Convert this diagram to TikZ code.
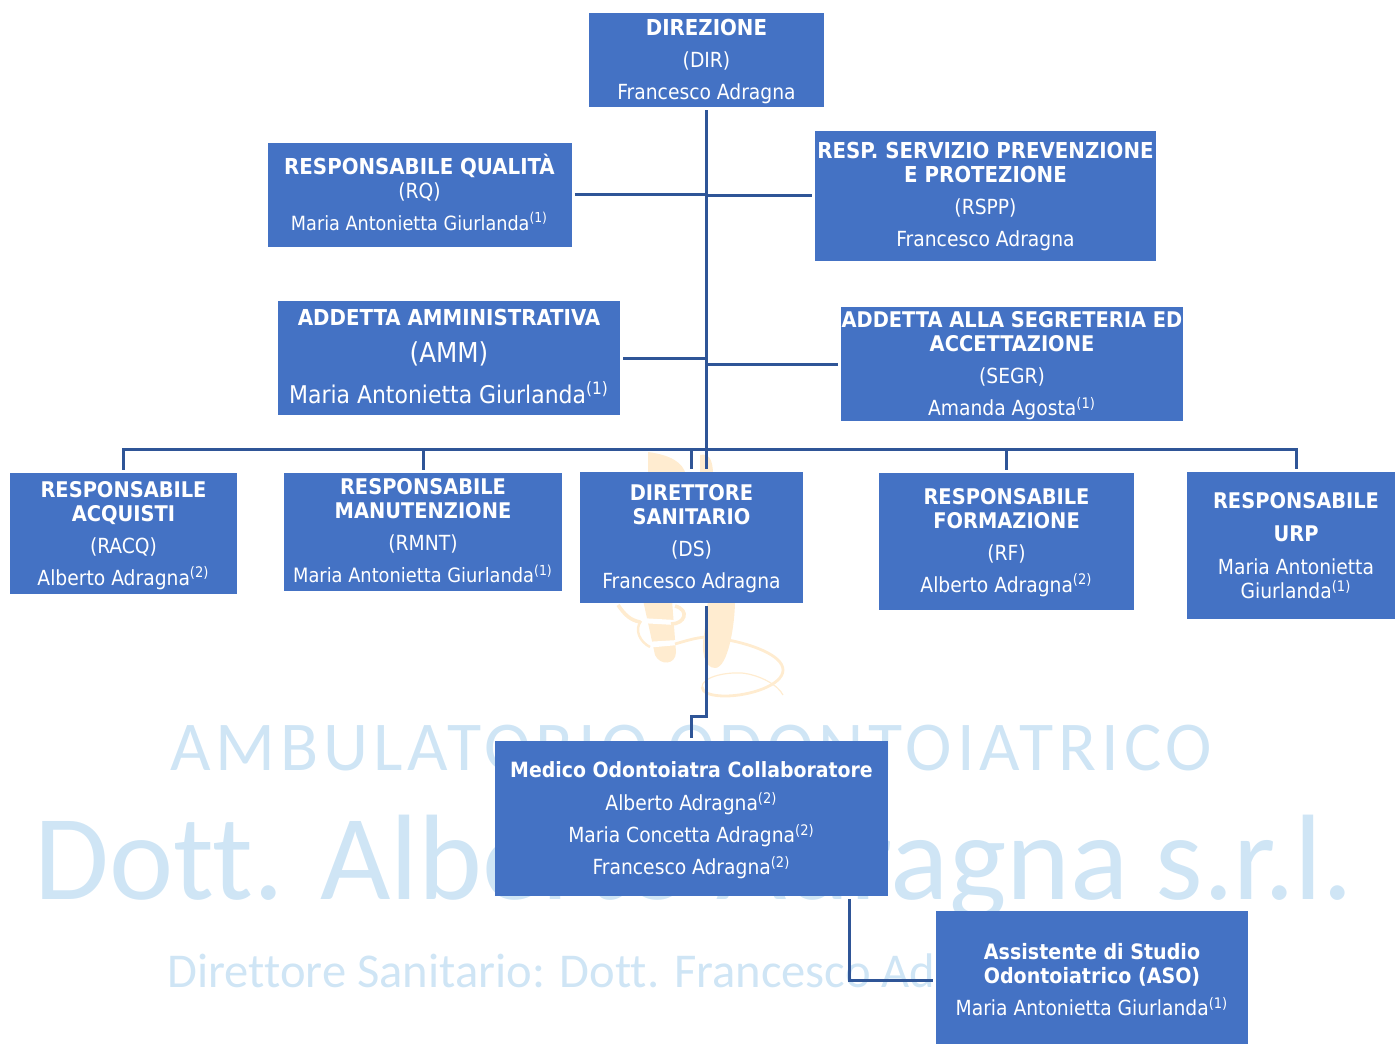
\documentclass[tikz,border=0pt]{standalone}
\usepackage{fontspec}
\setmainfont{DejaVu Sans Condensed}
\newfontfamily\markfont[Ligatures=NoCommon]{Carlito}
\newfontfamily\markspaced[LetterSpace=7,Ligatures=NoCommon]{Carlito}
\usepackage{xcolor}
\usetikzlibrary{positioning}
\definecolor{boxblue}{RGB}{68,114,196}
\definecolor{linkblue}{RGB}{47,85,151}
\definecolor{markblue}{RGB}{207,229,245}
\definecolor{logoyellow}{RGB}{255,236,208}
\newcommand{\nota}[1]{\textsuperscript{(#1)}}
\newcommand{\ttl}[2][11]{{\fontsize{#1}{12}\selectfont\bfseries #2}}
\newcommand{\namesize}[2]{{\fontsize{#1}{12}\selectfont #2}}
\newcommand{\topfill}[1]{\rule{0pt}{#1}}
\newcommand{\botfill}[1]{\rule[-#1]{0pt}{#1}}
\tikzstyle{box} = [rectangle,fill=boxblue,text=white,align=center,inner sep=0pt,font=\fontsize{10.4}{12}\selectfont]
\tikzstyle{link} = [draw=linkblue,line width=1.5pt,shorten <=1.5pt,shorten >=1.5pt]
\tikzstyle{branch} = [link,shorten >=0pt]
\tikzstyle{wmark} = [text=markblue,anchor=base west,inner sep=0pt]

\begin{document}
\setlength{\lineskiplimit}{-20pt}
\begin{tikzpicture}[x=0.5pt,y=-0.5pt]
\useasboundingbox (0,0) rectangle (1395,1043);
% Watermark text
\node[wmark,font=\markspaced\fontsize{35}{35}\selectfont] (wmone) at (170,770) {AMBULATORIO ODONTOIATRICO};
\node[wmark,font=\markfont\fontsize{60.8}{60}\selectfont] (wmtwo) at (34,899) {Dott. Alberto Adragna s.r.l.};
\node[wmark,font=\markfont\fontsize{24.3}{24}\selectfont] (wmthree) at (167,987) {Direttore Sanitario: Dott. Francesco Adragna};

% Logo behind the boxes
\fill[logoyellow] (648,452) .. controls (670,455) and (683,462) .. (686,475) -- (648,475) -- cycle;
\fill[logoyellow] (700,455) .. controls (708,453) and (713,458) .. (713,475) -- (700,475) -- cycle;
\fill[logoyellow] (643,600) -- (672,600) -- (676,652) .. controls (676,665) and (660,666) .. (655,655) -- cycle;
\fill[logoyellow] (708,600) -- (735,600) .. controls (735,625) and (728,668) .. (715,668) .. controls (704,668) and (701,650) .. (704,635) -- cycle;
\fill[white] (640,618) -- (675,620) -- (675,625) -- (640,623) -- cycle;
\fill[white] (645,642) -- (678,640) -- (678,645) -- (645,648) -- cycle;
\draw[logoyellow,line width=1.8pt] (618,605) .. controls (625,615) and (630,620) .. (640,622);
\draw[logoyellow,line width=1.8pt] (671,624) .. controls (685,624) and (690,610) .. (675,606);
\draw[logoyellow,line width=1.2pt] (641,621) .. controls (634,630) and (640,642) .. (650,647);
\draw[logoyellow,line width=1.4pt] (675,644) .. controls (685,641) and (695,638) .. (705,637);
\draw[logoyellow,line width=1.4pt] (728,640) .. controls (750,644) and (783,655) .. (783,670) .. controls (783,685) and (750,696) .. (725,696) .. controls (712,696) and (702,693) .. (702,687);
\draw[logoyellow,line width=0.6pt] (702,687) .. controls (702,678) and (722,672) .. (742,673) .. controls (760,675) and (778,685) .. (783,695);

% Boxes
\node[box,minimum width=117.5pt,minimum height=47pt] (dir) at (706.5,60) {\topfill{10pt}\ttl{DIREZIONE}\\[4pt](DIR)\\[4pt]Francesco Adragna};
\node[box,minimum width=152pt,minimum height=52pt] (rq) at (419.5,195) {\ttl{RESPONSABILE QUALITÀ}\\(RQ)\\[4pt]\namesize{9.8}{Maria Antonietta Giurlanda\nota{1}}\botfill{3pt}};
\node[box,minimum width=170.5pt,minimum height=65pt] (rspp) at (985.5,196) {\topfill{9pt}\ttl{RESP. SERVIZIO PREVENZIONE}\\\ttl{E PROTEZIONE}\\[4pt](RSPP)\\[4pt]Francesco Adragna};
\node[box,minimum width=171pt,minimum height=57pt] (amm) at (449,358) {\ttl{ADDETTA AMMINISTRATIVA}\\[6.5pt]\namesize{13.7}{(AMM)}\\[8.5pt]\namesize{12.2}{Maria Antonietta Giurlanda\nota{1}}\botfill{1.5pt}};
\node[box,minimum width=171pt,minimum height=57pt] (segr) at (1012,364) {\topfill{9.9pt}\ttl[10.8]{ADDETTA ALLA SEGRETERIA ED}\\\ttl[10.8]{ACCETTAZIONE}\\[4pt](SEGR)\\[4pt]Amanda Agosta\nota{1}};
\node[box,minimum width=113.5pt,minimum height=60.5pt] (racq) at (123.5,533.5) {\topfill{9.9pt}\ttl[10.8]{RESPONSABILE}\\\ttl[10.8]{ACQUISTI}\\[4pt](RACQ)\\[4pt]Alberto Adragna\nota{2}};
\node[box,minimum width=139pt,minimum height=59pt] (rmnt) at (423,532) {\ttl[10.8]{RESPONSABILE}\\\ttl[10.8]{MANUTENZIONE}\\[4pt](RMNT)\\[4pt]\namesize{9.9}{Maria Antonietta Giurlanda\nota{1}}\botfill{1.2pt}};
\node[box,minimum width=111.5pt,minimum height=65.5pt] (ds) at (691.5,537.5) {\topfill{8.9pt}\ttl[10.8]{DIRETTORE}\\\ttl[10.8]{SANITARIO}\\[4pt](DS)\\[4pt]Francesco Adragna};
\node[box,minimum width=127.5pt,minimum height=68.5pt] (rf) at (1006.5,541.5) {\topfill{8.9pt}\ttl[10.8]{RESPONSABILE}\\\ttl[10.8]{FORMAZIONE}\\[4pt](RF)\\[4pt]Alberto Adragna\nota{2}};
\node[box,minimum width=109pt,minimum height=73.5pt] (urp) at (1296,545.5) {\ttl[10.8]{RESPONSABILE}\\[4.5pt]\ttl[10.8]{URP}\\[4.5pt]Maria Antonietta\\Giurlanda\nota{1}};
\node[box,minimum width=196.5pt,minimum height=77.5pt] (moc) at (691.5,818.5) {\topfill{9.5pt}\ttl[10.5]{Medico Odontoiatra Collaboratore}\\[4.5pt]Alberto Adragna\nota{2}\\[4pt]Maria Concetta Adragna\nota{2}\\[4pt]Francesco Adragna\nota{2}};
\node[box,minimum width=156pt,minimum height=69pt] (aso) at (1092,980) {\ttl[10.6]{Assistente di Studio}\\\ttl[10.6]{Odontoiatrico (ASO)}\\[4pt]Maria Antonietta Giurlanda\nota{1}};

% Connectors
\coordinate (bus) at (706.5,449);
\coordinate (turn) at (691.5,716);
\coordinate (mocout) at (849.5,896);
\draw[link] (dir.south) -- (dir.south |- ds.north);
\draw[branch] (rq.east) -- (rq.east -| dir.south);
\draw[branch] (rspp.west) -- (rspp.west -| dir.south);
\draw[branch] (amm.east) -- (amm.east -| dir.south);
\draw[branch] (segr.west) -- (segr.west -| dir.south);
\foreach \i in {racq,rmnt,ds,rf,urp} {
    \draw[branch] (\i.north) |- (bus);
}
\draw[link] (dir.south |- ds.south) |- (turn) -- (moc.north);
\draw[link] (mocout) |- (aso.west);
\end{tikzpicture}
\end{document}
